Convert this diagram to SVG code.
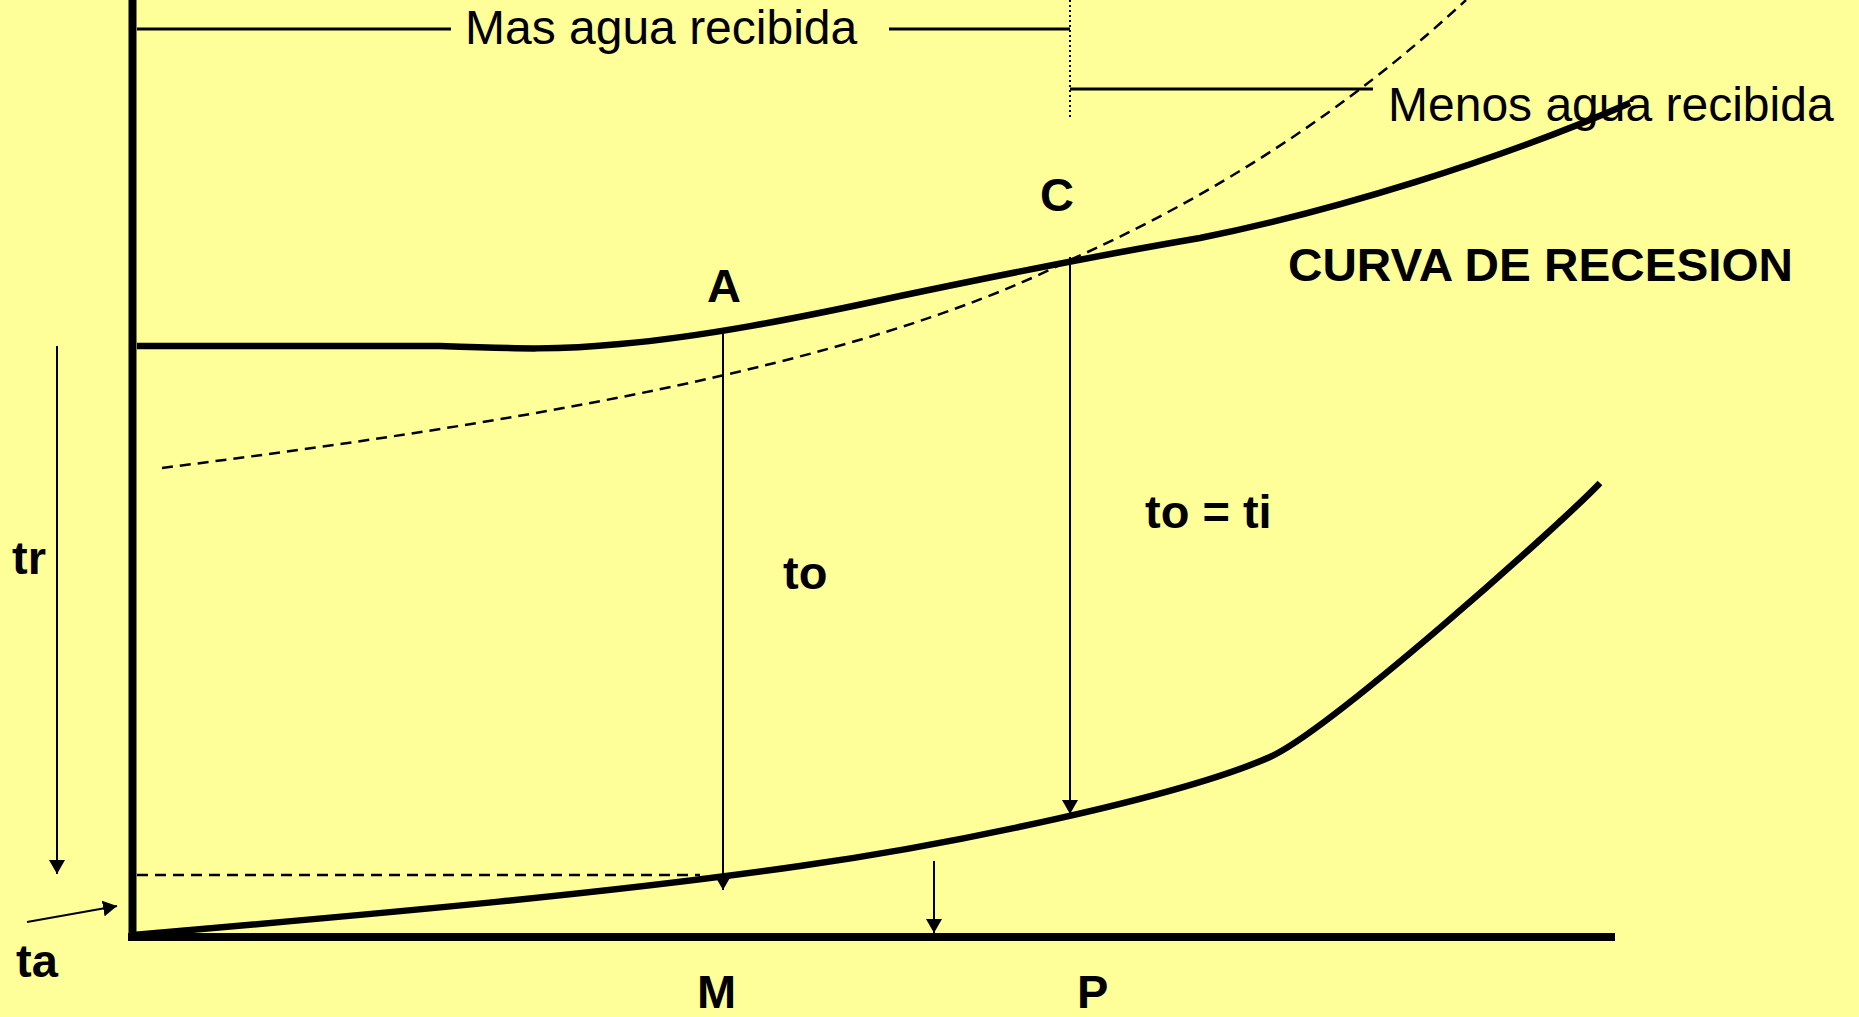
<svg xmlns="http://www.w3.org/2000/svg" width="1859" height="1017" viewBox="0 0 1859 1017">
<defs>
<style>
.lbl{font-family:"Liberation Sans",Arial,sans-serif;font-size:47px;font-weight:bold;fill:#000}
.note{font-family:"Liberation Sans",Arial,sans-serif;font-size:48px;fill:#000}
.thick{fill:none;stroke:#000;stroke-width:6.5;stroke-linecap:butt}
.axis{fill:none;stroke:#000;stroke-width:8}
.thin{fill:none;stroke:#000;stroke-width:2}
.guide{fill:none;stroke:#000;stroke-width:3}
.dash{fill:none;stroke:#000;stroke-width:2.5;stroke-dasharray:11 7}
.dot{fill:none;stroke:#000;stroke-width:2;stroke-dasharray:2 3}
</style>
<marker id="arr" viewBox="0 0 14 16" refX="14" refY="8" markerWidth="14" markerHeight="16" markerUnits="userSpaceOnUse" orient="auto">
<path d="M0,0 L14,8 L0,16 z" fill="#000"/>
</marker>
</defs>
<rect x="0" y="0" width="1859" height="1017" fill="#FFFF99"/>

<g id="axes">
<line class="axis" x1="132.5" y1="0" x2="132.5" y2="941"/>
<line class="axis" x1="128" y1="937" x2="1615" y2="937"/>
</g>

<g id="curves">
<path id="dashed-curve" class="dash" d="M162,468 C500,425 850,370 1070,260 C1250,180 1380,80 1466,0"/>
<path id="recession-curve" class="thick" d="M137,346 L440,346 C520,349 560,350 620,344 C700,337 790,320 900,296 C1000,275 1100,255 1200,238 C1330,212 1500,160 1630,103"/>
<path id="lower-curve" class="thick" d="M133,935 C400,912 620,892 800,866 C950,845 1180,797 1270,757 C1330,730 1560,525 1600,483"/>
<line id="dashed-ta" class="dash" x1="137" y1="875" x2="700" y2="875"/>
</g>

<g id="top-labels">
<line class="guide" x1="137" y1="29" x2="451" y2="29"/>
<text class="note" x="465" y="44">Mas agua recibida</text>
<line class="guide" x1="889" y1="29" x2="1070" y2="29"/>
<line class="dot" x1="1070" y1="0" x2="1070" y2="118"/>
<line class="guide" x1="1070" y1="89" x2="1373" y2="89"/>
<text class="note" x="1388" y="121">Menos agua recibida</text>
</g>

<g id="connectors">
<line class="thin" x1="723" y1="333" x2="723" y2="890" marker-end="url(#arr)"/>
<line class="thin" x1="1070" y1="257" x2="1070" y2="814" marker-end="url(#arr)"/>
<line class="thin" x1="934" y1="861" x2="934" y2="933" marker-end="url(#arr)"/>
<line class="thin" x1="57" y1="346" x2="57" y2="874" marker-end="url(#arr)"/>
<line class="thin" x1="27" y1="922" x2="117" y2="906" marker-end="url(#arr)"/>
</g>

<g id="label-C"><text class="lbl" x="1040" y="211">C</text></g>
<g id="label-A"><text class="lbl" x="707" y="302">A</text></g>
<g id="label-curva"><text class="lbl" x="1288" y="281" textLength="505" lengthAdjust="spacingAndGlyphs">CURVA DE RECESION</text></g>
<g id="label-to"><text class="lbl" x="783" y="589">to</text></g>
<g id="label-toti"><text class="lbl" x="1145" y="528">to = ti</text></g>
<g id="label-tr"><text class="lbl" x="12" y="574">tr</text></g>
<g id="label-ta"><text class="lbl" x="16" y="977">ta</text></g>
<g id="label-M"><text class="lbl" x="697" y="1008">M</text></g>
<g id="label-P"><text class="lbl" x="1077" y="1008">P</text></g>
</svg>
